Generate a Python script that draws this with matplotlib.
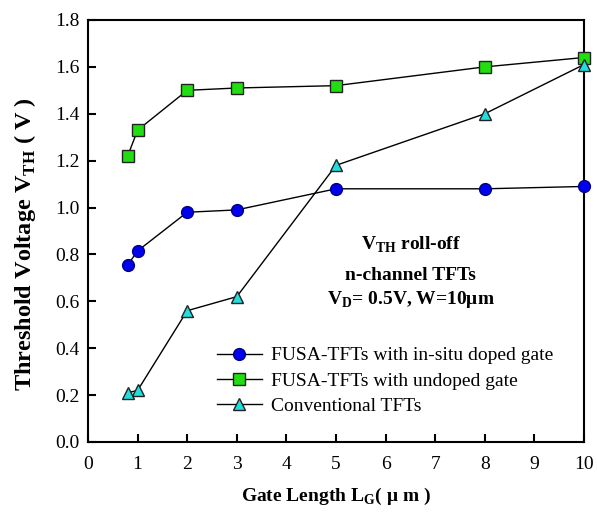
import matplotlib.pyplot as plt

plt.rcParams['font.family'] = ['Liberation Serif', 'DejaVu Serif']

# gate length (um)
lg = [0.8, 1, 2, 3, 5, 8, 10]
# threshold voltage (V)
vth_doped = [0.755, 0.815, 0.98, 0.99, 1.08, 1.08, 1.09]
vth_undoped = [1.22, 1.33, 1.50, 1.51, 1.52, 1.60, 1.64]
vth_conv = [0.21, 0.22, 0.56, 0.62, 1.18, 1.40, 1.61]

labels = ["FUSA-TFTs with in-situ doped gate",
          "FUSA-TFTs with undoped gate",
          "Conventional TFTs"]

fig = plt.figure(figsize=(5.97, 5.14), dpi=100)
ax = fig.add_axes([88 / 597, 1 - 442 / 514, 496 / 597, 422 / 514])

ax.plot(lg, vth_doped, color="black", lw=1, marker="o", ms=8.5,
        mfc="#0000ee", mec="#000080", clip_on=False, zorder=3, label=labels[0])
ax.plot(lg, vth_undoped, color="black", lw=1, marker="s", ms=8,
        mfc="#22dd11", mec="#222222", clip_on=False, zorder=3, label=labels[1])
ax.plot(lg, vth_conv, color="black", lw=1, marker="^", ms=9,
        mfc="#22dddd", mec="#222222", clip_on=False, zorder=3, label=labels[2])

ax.set_xlim(0, 10)
ax.set_ylim(0, 1.8)
ax.set_xticks(range(0, 11))
ax.set_yticks([0.0, 0.2, 0.4, 0.6, 0.8, 1.0, 1.2, 1.4, 1.6, 1.8])
ax.set_yticklabels([f"{v:.1f}" for v in ax.get_yticks()])
ax.tick_params(direction="in", labelsize=14, length=6, width=1.5, pad=6)
ax.tick_params(axis="x", pad=10)
for s in ax.spines.values():
    s.set_linewidth(1.5)

ax.set_xlabel(r"Gate Length L$_\mathregular{G}$( $\mathregular{\mu}$ m )",
              fontsize=14, fontweight="bold", labelpad=9)
ax.set_ylabel(r"Threshold Voltage V$_\mathregular{TH}$ ( V )",
              fontsize=17.5, fontweight="bold")
ax.yaxis.set_label_coords(-0.1, 0.47)

ax.text(6.51, 0.84, r"V$_\mathregular{TH}$ roll-off", ha="center", va="center",
        fontsize=14, fontweight="bold")
ax.text(6.51, 0.712, "n-channel TFTs", ha="center", va="center",
        fontsize=14, fontweight="bold")
ax.text(6.51, 0.606, r"V$_\mathregular{D}$= 0.5V, W=10μm", ha="center", va="center",
        fontsize=14, fontweight="bold")

ax.legend(loc="lower left", bbox_to_anchor=(0.244, 0.045), frameon=False,
          fontsize=14, handlelength=2.3, handletextpad=0.5, labelspacing=0.4,
          borderaxespad=0)

fig.savefig("out.png", dpi=100)
